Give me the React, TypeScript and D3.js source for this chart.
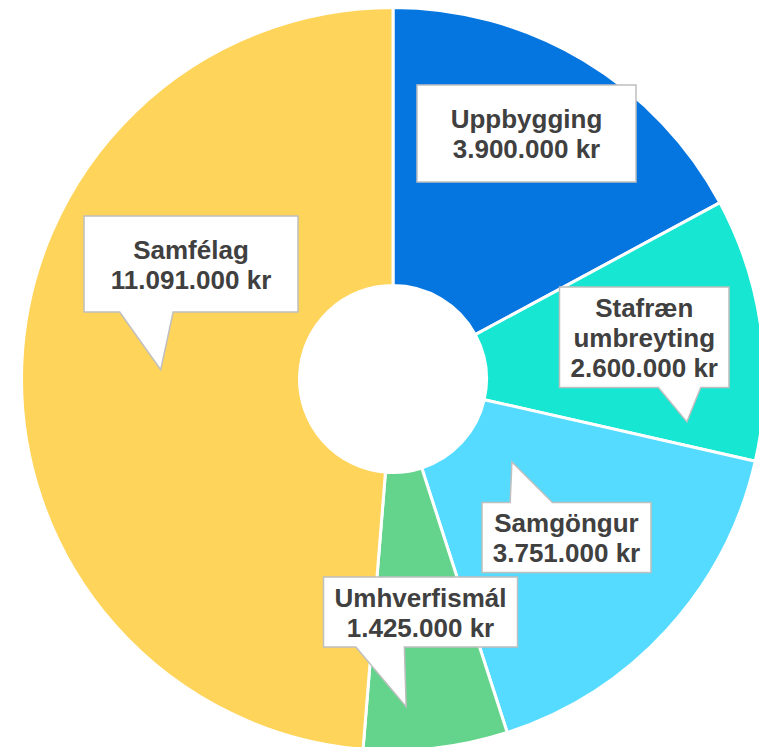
import React from 'react';
import * as d3 from 'd3';

// budget split (kr)
const categories = ['Uppbygging', 'Stafræn umbreyting', 'Samgöngur', 'Umhverfismál', 'Samfélag'];
const amounts = [3900000, 2600000, 3751000, 1425000, 11091000];
const colors = ['#0575E0', '#16E6D2', '#55DBFF', '#64D48C', '#FFD45B'];

// callout boxes, tip given as [angle deg, radius] or null = slice centroid
const callouts = [
    { x: 417, y: 85, w: 219, h: 97, wrap: false, tip: null },
    { x: 559.5, y: 287, w: 169.5, h: 100.5, wrap: true, tip: [98.3, 297] },
    { x: 482, y: 502.5, w: 169, h: 70, wrap: false, tip: [124.9, 145] },
    { x: 323.5, y: 577, w: 194, h: 70, wrap: false, tip: [177.7, 328] },
    { x: 84, y: 216, w: 214, h: 96, wrap: false, tip: null },
];

const W = 759;
const H = 747;
const cx = 393;
const cy = 379;
const outerR = 371.5;
const innerR = 93.5;
const fontSize = 26;
const lineH = 30;

const kr = d3.formatLocale({ decimal: ',', thousands: '.', grouping: [3], currency: ['', ' kr'] }).format('$,');

function calloutPath(b, tip) {
    const { x, y, w, h } = b;
    const r = x + w, btm = y + h;
    if (!tip) return `M${x},${y}H${r}V${btm}H${x}Z`;
    const [tx, ty] = tip;
    const inside = tx > x && tx < r && ty > y && ty < btm;
    if (inside) return `M${x},${y}H${r}V${btm}H${x}Z`;
    const bx = x + w / 2, by = y + h / 2;
    const left = tx < bx;
    const b1 = x + w * (left ? 2 / 12 : 7 / 12);
    const b2 = x + w * (left ? 5 / 12 : 10 / 12);
    if (ty > by) {
        return `M${x},${y}H${r}V${btm}H${b2}L${tx},${ty}L${b1},${btm}H${x}Z`;
    }
    return `M${x},${y}H${b1}L${tx},${ty}L${b2},${y}H${r}V${btm}H${x}Z`;
}

export default function App() {
    const pie = d3.pie().sort(null).value(d => d)(amounts);
    const arc = d3.arc().innerRadius(innerR).outerRadius(outerR);
    const midArc = d3.arc().innerRadius(innerR + 1.5).outerRadius(outerR - 1.5);

    return (
        <svg width={W} height={H} style={{ position: 'absolute', left: 0, top: 0, display: 'block' }}>
            <g transform={`translate(${cx},${cy})`}>
                {pie.map((s, i) => (
                    <path key={i} d={arc(s)} fill={colors[i]} stroke="#fff" strokeWidth={3} strokeLinejoin="round" />
                ))}
            </g>
            {pie.map((s, i) => {
                const c = callouts[i];
                let tip;
                if (c.tip) {
                    const p = d3.pointRadial((c.tip[0] * Math.PI) / 180, c.tip[1]);
                    tip = [cx + p[0], cy + p[1]];
                } else {
                    const p = midArc.centroid(s);
                    tip = [cx + p[0], cy + p[1]];
                }
                const lines = (c.wrap ? categories[i].split(' ') : [categories[i]]).concat(kr(amounts[i]));
                const mx = c.x + c.w / 2;
                const my = c.y + c.h / 2;
                return (
                    <g key={'c' + i}>
                        <path d={calloutPath(c, tip)} fill="#fff" stroke="#BFBFBF" strokeWidth={1.5} strokeLinejoin="miter" />
                        <text
                            textAnchor="middle"
                            fontFamily="'Liberation Sans', Arial, sans-serif"
                            fontWeight="bold"
                            fontSize={fontSize}
                            fill="#404040"
                        >
                            {lines.map((t, j) => (
                                <tspan key={j} x={mx} y={my + (j - (lines.length - 1) / 2) * lineH + 9.8}>{t}</tspan>
                            ))}
                        </text>
                    </g>
                );
            })}
        </svg>
    );
}
